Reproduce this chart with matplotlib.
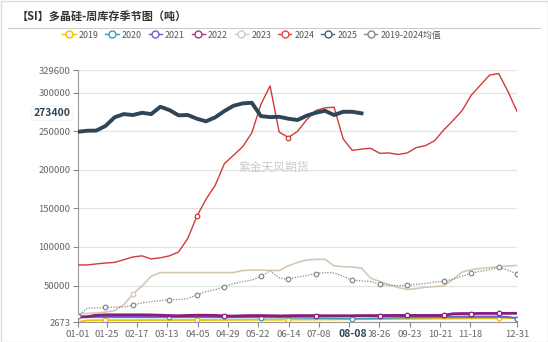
import matplotlib
matplotlib.use("Agg")
import matplotlib.pyplot as plt
from matplotlib.lines import Line2D
from matplotlib.patches import Rectangle
import numpy as np

plt.rcParams['font.family'] = ['Noto Sans CJK SC', 'DejaVu Sans']

# DATA (weekly points)
years = ['2019', '2020', '2021', '2022', '2023', '2024', '2025', '2019-2024均值']

y2019 = [2700, 4800, 5000, 5000, 5000, 5000, 5000, 5200, 5200, 5200, 5200, 5300, 5300,
         5300, 5300, 5300, 5400, 5400, 5500, 5500, 5600, 5600, 5600, 5700, 5800, 5800,
         5900, 6000, 6000, 6100, 6200, 6300, 6400, 6500, 6500, 6600, 6700, 6800, 6900,
         7000, 7000, 7100, 7200, 7300, 7400, 7400, 7500, 7500, 7600]
y2020 = [9000, 8800, 8700, 8700, 8600, 8600, 8600, 8600, 8600, 8600, 8600, 8600, 8600,
         8600, 8600, 8500, 8500, 8500, 8500, 8500, 8500, 8400, 8300, 8200, 8000, 7800,
         7600, 7400, 7200, 7100, 7000, 7000, 7200, 7500, 7800, 8000, 8200, 8400, 8500,
         8600, 8600, 8600, 8600, 8600, 8700, 8700, 8700, 8600, 8500]
y2021 = [10000, 9800, 9700, 9700, 9600, 9600, 9600, 9600, 9500, 9500, 9500, 9500, 9500,
         9500, 9500, 9500, 9500, 9600, 9600, 9600, 9600, 9600, 9600, 9700, 9700, 9700,
         9700, 9700, 9700, 9700, 9800, 9800, 9800, 9800, 9900, 9900, 9900, 10000, 10000,
         10000, 10000, 10000, 10000, 10000, 10000, 10000, 10000, 9500, 7000]
y2022 = [9000, 9500, 11500, 12000, 12000, 12000, 12000, 12000, 11800, 11500, 11000, 10800,
         11200, 11500, 11500, 11200, 10600, 10400, 10800, 11000, 11000, 10800, 10600,
         10800, 11000, 11000, 11000, 10800, 10800, 10800, 10800, 11000, 11000, 11000,
         11200, 11200, 11200, 11200, 11200, 11200, 11200, 13400, 13600, 13600, 13800,
         13800, 13800, 13900, 14000]
y2023 = [13400, 13800, 14300, 15500, 17500, 25000, 38500, 49500, 62000, 66800, 66800,
         66800, 66800, 66800, 66800, 66800, 66800, 66800, 69500, 70000, 70000, 69500,
         69500, 75500, 80000, 83000, 84000, 84100, 75500, 74500, 74000, 72500, 59500,
         55200, 51000, 47500, 44800, 46000, 47700, 48600, 49500, 58000, 67500, 70500,
         72000, 73200, 74400, 75300, 76000]
y2024 = [76700, 76700, 78000, 79200, 80000, 83500, 87000, 88500, 84500, 86000, 88500,
         93500, 111000, 140000, 162000, 180000, 208000, 219000, 230000, 248000, 285000,
         309000, 249000, 242000, 250000, 265000, 277000, 280500, 281300, 240000, 225300,
         227000, 228000, 221500, 222000, 220000, 222000, 229000, 231500, 238000, 252000,
         264000, 277000, 297000, 310000, 323000, 325000, 302000, 276000]
y2025 = [249500, 250800, 251000, 257000, 268200, 272400, 271200, 274100, 272400, 281900,
         277600, 270800, 271200, 266400, 263000, 268200, 276300, 283200, 286300, 287100,
         269800, 268500, 268900, 266400, 264700, 270300, 274100, 276700, 271200, 275400,
         275400, 273400]
y_avg = [10000, 20500, 21000, 21500, 22000, 22000, 24500, 27500, 29000, 30500, 31500,
         32000, 33000, 38000, 42000, 44500, 48500, 52500, 55000, 57000, 62000, 69000,
         60000, 58200, 61000, 63000, 65500, 66800, 66300, 62000, 57000, 56000, 55200,
         51500, 50500, 49800, 50500, 51500, 52500, 54500, 55400, 58000, 62000, 66000,
         68500, 70500, 73500, 70000, 65000]

x_tick_pos = [0, 3.17, 6.45, 9.73, 13.12, 16.4, 19.68, 23.07, 26.35, 29.63, 32.9, 36.3,
              39.6, 42.86, 48]
x_tick_labels = ['01-01', '01-25', '02-17', '03-13', '04-05', '04-29', '05-22', '06-14',
                 '07-08', '', '08-26', '09-23', '10-21', '11-18', '12-31']
y_ticks = [2673, 50000, 100000, 150000, 200000, 250000, 300000, 329600]

colors = ['#f5c000', '#35a3ad', '#6b5fcf', '#8a1c7c', '#d6c8b6', '#d23a3a', '#2f4558', '#888888']
legend_colors = ['#f5c000', '#35a3ad', '#6b5fcf', '#a0387f', '#d6c8b6', '#e04545', '#4b5d78', '#888888']

fig = plt.figure(figsize=(5.48, 3.42), dpi=100)
ax = fig.add_axes([78 / 548, 20 / 342, 439 / 548, 252 / 342])

mk_ticks = [0, 3, 6, 10, 13, 16, 20, 23, 26, 30, 33, 36, 40, 43, 46, 48]

def draw(y, c, lw, ls='-', mk=None, z=2):
    x = np.arange(len(y))
    ax.plot(x, y, color=c, lw=lw, ls=ls, zorder=z, solid_joinstyle='round')
    if mk:
        ax.plot(x[mk], np.array(y)[mk], ls='none', marker='o', ms=3.3, mfc='white',
                mec=c, mew=0.9, zorder=z + 0.1)

draw(y2019, colors[0], 1.3, mk=[3, 13, 23, 46], z=2)
draw(y2020, colors[1], 1.1, mk=[10, 20, 30], z=2.2)
draw(y2021, colors[2], 1.1, mk=[0, 48], z=2.4)
draw(y2022, colors[3], 2.0, mk=[16, 26, 33, 36, 40, 43, 46], z=2.6)
draw(y2023, colors[4], 1.2, mk=[6], z=2.8)
draw(y2024, colors[5], 1.0, mk=[13, 23], z=3)
draw(y2025, colors[6], 2.8, z=3.2)
draw(y_avg, colors[7], 0.9, ls=(0, (1, 1.2)), mk=mk_ticks, z=3.4)

ax.set_xlim(0, 48)
ax.set_ylim(2673, 329600)
ax.set_yticks(y_ticks)
ax.set_yticklabels([str(v) for v in y_ticks])
ax.set_xticks(x_tick_pos)
ax.set_xticklabels(x_tick_labels)
ax.tick_params(axis='both', labelsize=6.8, colors='#666666', length=3.5, width=0.8,
               pad=2)
ax.tick_params(axis='y', color='#888888')
ax.tick_params(axis='x', color='#888888')
ax.grid(axis='y', color='#e3e3e3', lw=0.9)
ax.set_axisbelow(True)
for s in ['top', 'right']:
    ax.spines[s].set_visible(False)
ax.spines['left'].set_color('#999999')
ax.spines['bottom'].set_color('#999999')

# axis pointer labels
ax.text(-0.018, y2025[-1], str(y2025[-1]), transform=ax.get_yaxis_transform(),
        ha='right', va='center', fontsize=7.5, fontweight='bold', color='#2f4558',
        bbox=dict(boxstyle='round,pad=0.2', fc='white', ec='#eeeeee', lw=0.6),
        zorder=10, clip_on=False)
ax.text(30.1, -0.026, '08-08', transform=ax.get_xaxis_transform(), ha='center', va='top',
        fontsize=7.5, fontweight='bold', color='#2f4558',
        bbox=dict(boxstyle='square,pad=0.1', fc='white', ec='none'), zorder=10,
        clip_on=False)

# title, rule, watermark
fig.text(17 / 548, 1 - 16 / 342, '【SI】多晶硅-周库存季节图（吨）', fontsize=8, fontweight='bold',
         color='#333333', ha='left', va='center')
fig.add_artist(Line2D([8 / 548, 540 / 548], [1 - 28 / 342, 1 - 28 / 342], color='#cccccc',
                      lw=0.8))
fig.text(274 / 548, 1 - 167 / 342, '紫金天风期货', fontsize=8.5, color='#cccccc',
         ha='center', va='center')
fig.add_artist(Rectangle((0.5 / 548, 0.5 / 342), 547 / 548, 341 / 342, fill=False,
                         ec='#dddddd', lw=1, transform=fig.transFigure))

handles = [Line2D([], [], color=c, lw=1, marker='o', ms=5, mfc='white', mec=c, mew=1)
           for c in legend_colors]
fig.legend(handles, years, loc='center left', bbox_to_anchor=(58 / 548, 1 - 35 / 342),
           ncol=8, frameon=False, fontsize=6.4, handlelength=1.5, handletextpad=0.35,
           columnspacing=0.75, labelcolor='#555555', borderpad=0)

fig.savefig('out.png', dpi=100)
